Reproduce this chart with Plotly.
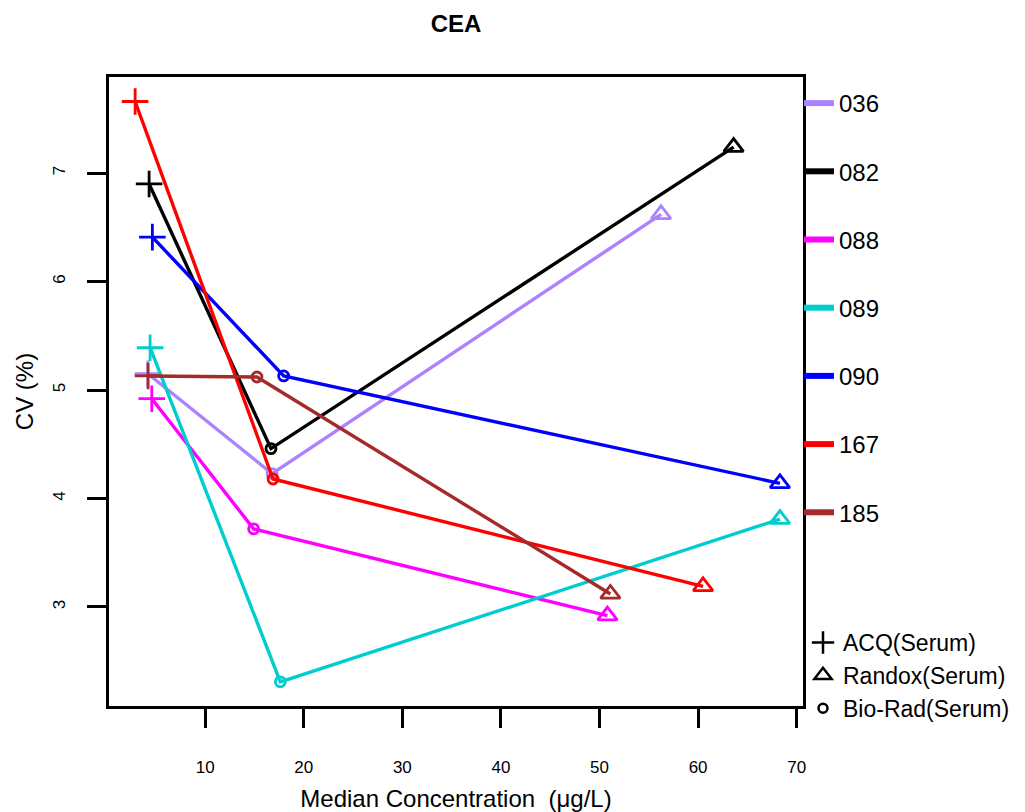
import plotly.graph_objects as go

# ---- data ----
series_names = ["036", "082", "088", "089", "090", "167", "185"]
series_colors = ["#AB82FF", "#000000", "#FF00FF", "#00CDCD", "#0000FF", "#FF0000", "#A52A2A"]
methods = ["ACQ(Serum)", "Randox(Serum)", "Bio-Rad(Serum)"]

# points per series in order: ACQ, Bio-Rad, Randox
conc_036 = [4.18, 16.78, 56.24]
cv_036 = [5.15, 4.23, 6.62]
conc_082 = [4.31, 16.67, 63.6]
cv_082 = [6.90, 4.46, 7.24]
conc_088 = [4.58, 14.91, 50.8]
cv_088 = [4.92, 3.72, 2.92]
conc_089 = [4.41, 17.62, 68.3]
cv_089 = [5.39, 2.31, 3.81]
conc_090 = [4.64, 17.96, 68.3]
cv_090 = [6.41, 5.13, 4.14]
conc_167 = [2.89, 16.88, 60.5]
cv_167 = [7.66, 4.18, 3.19]
conc_185 = [4.2, 15.25, 51.1]
cv_185 = [5.13, 5.12, 3.12]

point_methods = ["ACQ(Serum)", "Bio-Rad(Serum)", "Randox(Serum)"]

x_ticks = [10, 20, 30, 40, 50, 60, 70]
y_ticks = [3, 4, 5, 6, 7]

concs = [conc_036, conc_082, conc_088, conc_089, conc_090, conc_167, conc_185]
cvs = [cv_036, cv_082, cv_088, cv_089, cv_090, cv_167, cv_185]

symbol_map = {"ACQ(Serum)": "cross-thin-open",
              "Randox(Serum)": "triangle-up-open",
              "Bio-Rad(Serum)": "circle-open"}
size_map = {"ACQ(Serum)": 19, "Randox(Serum)": 17, "Bio-Rad(Serum)": 10}

FONT = "Liberation Sans, Arial, sans-serif"

L, R, T, B = 109, 222, 77, 106
PW = 1025 - L - R
PH = 812 - T - B

fig = go.Figure()

for name, col, xs, ys in zip(series_names, series_colors, concs, cvs):
    fig.add_trace(go.Scatter(
        x=xs, y=ys, mode="lines+markers", name=name, showlegend=False,
        line=dict(color=col, width=3.4),
        marker=dict(symbol=[symbol_map[m] for m in point_methods],
                    size=[size_map[m] for m in point_methods],
                    opacity=1,
                    color=col, line=dict(color=col, width=2.8)),
    ))

# legend 1: series colour keys
for i, (name, col) in enumerate(zip(series_names, series_colors)):
    fig.add_trace(go.Scatter(
        x=[None], y=[None], mode="lines", name=name, legend="legend",
        legendgroup="g%d" % i,
        line=dict(color=col, width=6),
    ))

# legend 2: method symbols
for i, m in enumerate(methods):
    fig.add_trace(go.Scatter(
        x=[None], y=[None], mode="markers", name=m, legend="legend2",
        legendgroup="methods",
        marker=dict(symbol=symbol_map[m], size=[16, 15, 9][i], color="black",
                    opacity=1, line=dict(color="black", width=2.5)),
    ))

fig.update_layout(
    width=1025, height=812,
    margin=dict(l=L, r=R, t=T, b=B, autoexpand=False),
    paper_bgcolor="white", plot_bgcolor="white",
    font=dict(family=FONT, color="black"),
    title=dict(text="<b>CEA</b>", x=456 / 1025, xanchor="center",
               y=1 - 24 / 812, yanchor="middle",
               font=dict(size=24, family=FONT, color="black")),
    xaxis=dict(range=[0.24, 70.64], tickvals=x_ticks, ticktext=[str(v) for v in x_ticks],
               showgrid=False, zeroline=False, showline=True, linecolor="black",
               linewidth=3, mirror=True, ticks="outside", ticklen=19, tickwidth=3,
               tickcolor="black", tickfont=dict(size=17, family=FONT),
               ticklabelstandoff=25,
               title=dict(text="Median Concentration  (μg/L)", standoff=16,
                          font=dict(size=24, family=FONT))),
    yaxis=dict(range=[2.087, 7.886], tickvals=y_ticks, ticktext=[str(v) for v in y_ticks],
               showgrid=False, zeroline=False, showline=True, linecolor="black",
               linewidth=3, mirror=True, ticks="outside", ticklen=19, tickwidth=3,
               tickcolor="black", tickfont=dict(size=17, family=FONT), tickangle=-90,
               ticklabelstandoff=15,
               title=dict(text="CV (%)", standoff=10,
                          font=dict(size=24, family=FONT))),
    legend=dict(x=(799 - L) / PW, xanchor="left",
                y=(812 - B - 81) / PH, yanchor="top",
                font=dict(size=24, family=FONT), tracegroupgap=34,
                bgcolor="rgba(0,0,0,0)", borderwidth=0, itemwidth=30),
    legend2=dict(x=(803 - L) / PW, xanchor="left",
                 y=(812 - B - 621) / PH, yanchor="top",
                 font=dict(size=23, family=FONT), tracegroupgap=0,
                 bgcolor="rgba(0,0,0,0)", borderwidth=0, itemwidth=30),
)

fig.write_html("out.html")
